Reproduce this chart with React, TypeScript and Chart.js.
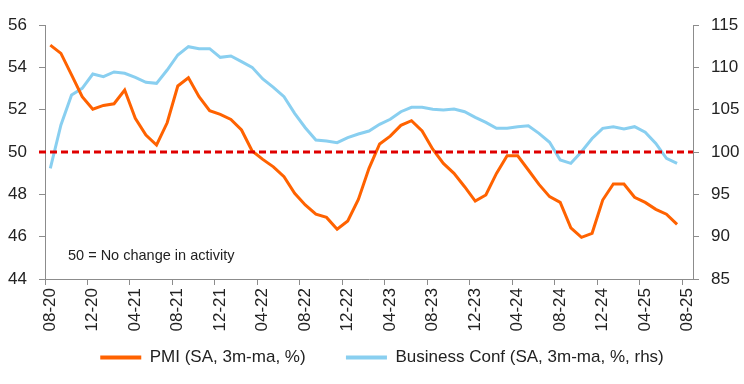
import React, { useEffect, useRef } from "react";
import { Chart, registerables } from "chart.js";

Chart.register(...registerables);

const categories = [
  "08-20", "09-20", "10-20", "11-20", "12-20",
  "01-21", "02-21", "03-21", "04-21", "05-21", "06-21", "07-21", "08-21", "09-21", "10-21", "11-21", "12-21",
  "01-22", "02-22", "03-22", "04-22", "05-22", "06-22", "07-22", "08-22", "09-22", "10-22", "11-22", "12-22",
  "01-23", "02-23", "03-23", "04-23", "05-23", "06-23", "07-23", "08-23", "09-23", "10-23", "11-23", "12-23",
  "01-24", "02-24", "03-24", "04-24", "05-24", "06-24", "07-24", "08-24", "09-24", "10-24", "11-24", "12-24",
  "01-25", "02-25", "03-25", "04-25", "05-25", "06-25", "07-25", "08-25",
];

const pmi = [
  55.05, 54.66, 53.64, 52.61, 52.02, 52.2, 52.28, 52.93, 51.59, 50.8,
  50.33, 51.38, 53.12, 53.51, 52.61, 51.95, 51.78, 51.54, 51.04, 50.05,
  49.65, 49.3, 48.83, 48.05, 47.5, 47.06, 46.91, 46.35, 46.74, 47.76,
  49.23, 50.38, 50.75, 51.26, 51.48, 50.99, 50.13, 49.46, 48.99, 48.36,
  47.68, 47.97, 48.99, 49.82, 49.82, 49.15, 48.47, 47.89, 47.62, 46.42,
  45.97, 46.16, 47.73, 48.49, 48.49, 47.86, 47.62, 47.29, 47.06, 46.58,
];

const businessConf = [
  98.07, 103.19, 106.73, 107.52, 109.21, 108.9, 109.45, 109.3, 108.82, 108.23,
  108.11, 109.68, 111.46, 112.44, 112.2, 112.2, 111.18, 111.34, 110.67, 110.0,
  108.62, 107.64, 106.53, 104.57, 102.87, 101.42, 101.3, 101.1, 101.69, 102.13,
  102.48, 103.27, 103.86, 104.76, 105.28, 105.28, 105.04, 104.96, 105.08, 104.76,
  104.1, 103.5, 102.8, 102.8, 102.99, 103.1, 102.2, 101.14, 99.05, 98.66,
  100.03, 101.6, 102.8, 102.99, 102.72, 102.99, 102.33, 101.02, 99.25, 98.66,
];

const leftTicks = { min: 44, max: 56, step: 2 };
const rightTicks = { min: 85, max: 115, step: 5 };
const thresholdValue = 50;
const annotationText = "50 = No change in activity";
const annotationValue = 45.1;
const seriesNames = ["PMI (SA, 3m-ma, %)", "Business Conf (SA, 3m-ma, %, rhs)"];

const ORANGE = "#FF6200";
const BLUE = "#89CFF0";
const RED = "#E00000";
const AXIS = "#8c8c8c";
const TEXT = "#222222";
const FONT = "'Liberation Sans', Arial, sans-serif";

const thresholdPlugin = {
  id: "threshold",
  afterDatasetsDraw(chart: any) {
    const { ctx, chartArea, scales } = chart;
    const y = scales.y.getPixelForValue(thresholdValue);
    ctx.save();
    ctx.strokeStyle = RED;
    ctx.lineWidth = 3;
    ctx.setLineDash([7, 4]);
    ctx.beginPath();
    ctx.moveTo(chartArea.left - 6, y);
    ctx.lineTo(chartArea.right, y);
    ctx.stroke();
    ctx.restore();
  },
};

const annotationPlugin = {
  id: "annotationText",
  afterDraw(chart: any) {
    const { ctx, chartArea, scales } = chart;
    const y = scales.y.getPixelForValue(annotationValue);
    ctx.save();
    ctx.font = `14.5px ${FONT}`;
    ctx.fillStyle = TEXT;
    ctx.textAlign = "left";
    ctx.textBaseline = "middle";
    ctx.fillText(annotationText, chartArea.left + 23, y);
    ctx.restore();
  },
};

export default function App() {
  const ref = useRef<HTMLCanvasElement | null>(null);

  useEffect(() => {
    document.body.style.margin = "0";
    const canvas = ref.current;
    if (!canvas) return;
    const chart = new Chart(canvas, {
      type: "line",
      data: {
        labels: categories,
        datasets: [
          {
            label: seriesNames[0],
            data: pmi,
            borderColor: ORANGE,
            backgroundColor: ORANGE,
            borderWidth: 3,
            pointRadius: 0,
            tension: 0,
            yAxisID: "y",
          },
          {
            label: seriesNames[1],
            data: businessConf,
            borderColor: BLUE,
            backgroundColor: BLUE,
            borderWidth: 3,
            pointRadius: 0,
            tension: 0,
            yAxisID: "y1",
          },
        ],
      },
      options: {
        responsive: false,
        animation: false,
        layout: { padding: { top: 25, left: 0, right: -20, bottom: 8 } },
        plugins: {
          tooltip: { enabled: false },
          legend: {
            position: "bottom",
            align: "center",
            labels: {
              boxWidth: 41,
              boxHeight: 4,
              padding: 12,
              color: TEXT,
              font: { family: FONT, size: 17 },
              generateLabels(chart: any) {
                const items = Chart.defaults.plugins.legend.labels.generateLabels(chart);
                return items.map((it: any, i: number) => ({
                  ...it,
                  text: i === 0 ? it.text + "      " : it.text,
                  lineWidth: 0,
                  fillStyle: it.strokeStyle,
                }));
              },
            },
          },
        },
        scales: {
          x: {
            type: "category",
            offset: true,
            grid: {
              offset: true,
              drawOnChartArea: false,
              drawTicks: true,
              tickLength: 6,
              tickColor: (ctx: any) => (ctx.index % 4 === 0 ? AXIS : "rgba(0,0,0,0)"),
            },
            border: { display: true, color: AXIS, width: 1 },
            ticks: {
              autoSkip: false,
              minRotation: 90,
              maxRotation: 90,
              padding: 3,
              color: TEXT,
              font: { family: FONT, size: 17 },
              callback: (_v: any, i: number) => (i % 4 === 0 ? categories[i] : ""),
            },
            afterFit(scale: any) {
              scale.height = 58;
            },
          },
          y: {
            position: "left",
            min: leftTicks.min,
            max: leftTicks.max,
            grid: { drawOnChartArea: false, drawTicks: true, tickLength: 6, tickColor: AXIS },
            border: { display: true, color: AXIS, width: 1 },
            ticks: {
              stepSize: leftTicks.step,
              padding: 12,
              color: TEXT,
              font: { family: FONT, size: 17 },
            },
            afterFit(scale: any) {
              scale.width = 45;
            },
          },
          y1: {
            position: "right",
            min: rightTicks.min,
            max: rightTicks.max,
            grid: { drawOnChartArea: false, drawTicks: true, tickLength: 6, tickColor: AXIS },
            border: { display: true, color: AXIS, width: 1 },
            ticks: {
              stepSize: rightTicks.step,
              padding: 12,
              color: TEXT,
              font: { family: FONT, size: 17 },
            },
            afterFit(scale: any) {
              scale.width = 71;
            },
          },
        },
      },
      plugins: [thresholdPlugin, annotationPlugin],
    } as any);
    return () => chart.destroy();
  }, []);

  return (
    <div style={{ width: 744, height: 384, background: "#fff" }}>
      <canvas ref={ref} width={744} height={384} style={{ display: "block" }} />
    </div>
  );
}
